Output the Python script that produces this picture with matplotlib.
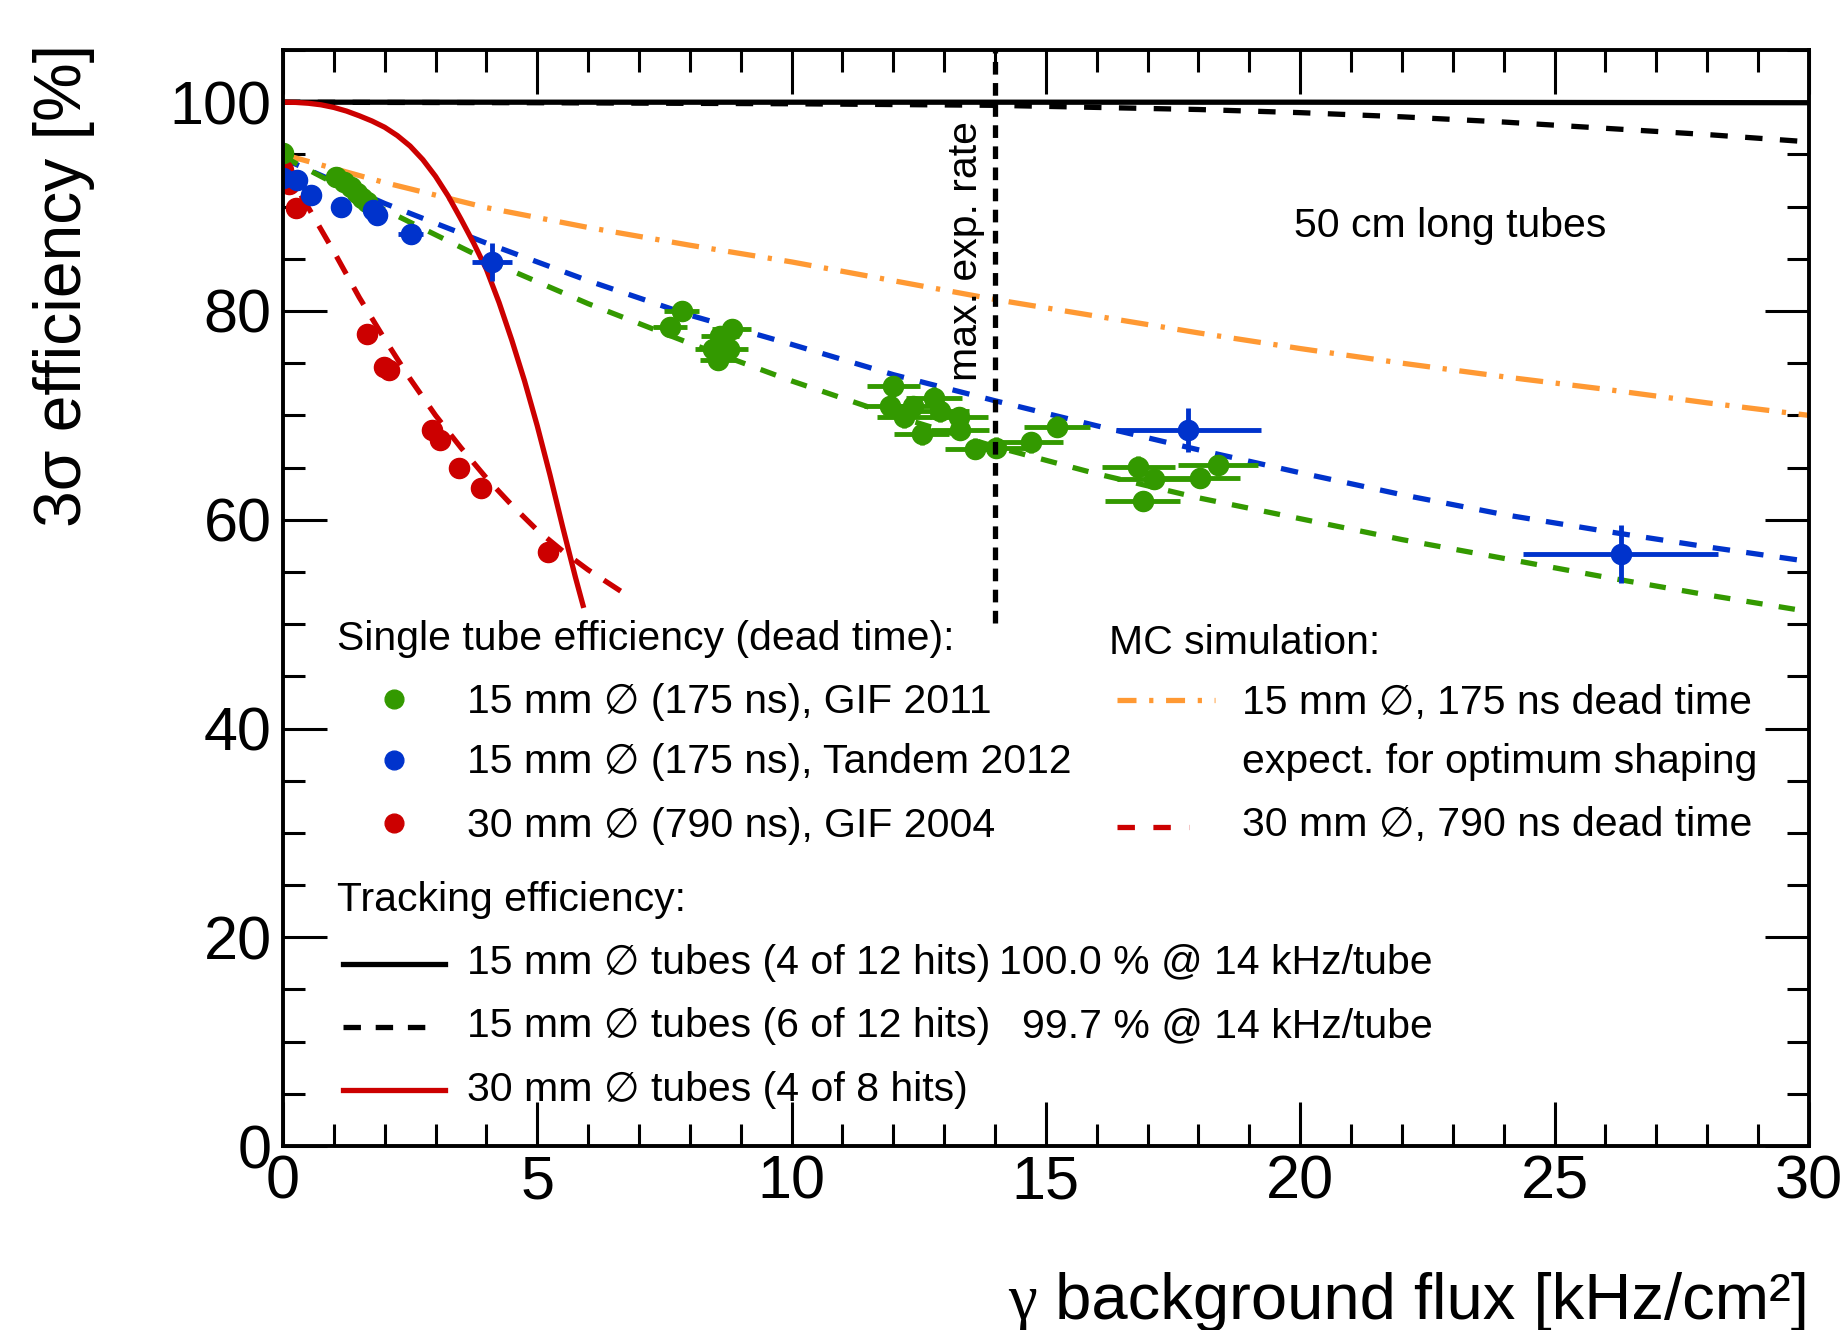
import matplotlib
matplotlib.use('Agg')
import matplotlib.pyplot as plt
from matplotlib.ticker import MultipleLocator

plt.rcParams['font.family'] = ['Liberation Sans', 'DejaVu Sans']

# --- measured single tube efficiencies ---
gif2011_x = [0.0, 1.05, 1.2, 1.33, 1.45, 1.55, 1.65,
             7.84, 7.61, 8.82, 8.59, 8.46, 8.77, 8.56,
             12.0, 11.94, 12.21, 12.39, 12.8, 12.92, 12.56, 13.29, 13.31,
             13.6, 14.02, 14.71, 15.22, 16.82, 17.13, 18.03, 18.39, 16.9]
gif2011_y = [95.1, 92.8, 92.4, 91.9, 91.3, 90.8, 90.4,
             80.0, 78.5, 78.3, 77.6, 76.4, 76.4, 75.3,
             72.8, 70.9, 69.8, 70.9, 71.7, 70.4, 68.2, 69.8, 68.6,
             66.8, 66.9, 67.4, 68.9, 65.1, 63.9, 64.0, 65.2, 61.8]
gif2011_xerr = [0, 0, 0, 0, 0, 0, 0,
                0.34, 0.33, 0.38, 0.37, 0.36, 0.38, 0.37,
                0.52, 0.51, 0.53, 0.53, 0.55, 0.56, 0.54, 0.57, 0.57,
                0.58, 0.6, 0.63, 0.65, 0.72, 0.74, 0.78, 0.79, 0.73]
gif2011_yerr = [0, 0, 0, 0, 0, 0, 0,
                1.0, 0.9, 0.9, 0.9, 0.9, 0.9, 0.9,
                1.0, 1.0, 1.0, 1.0, 1.0, 1.0, 1.0, 1.0, 1.0,
                1.0, 1.0, 1.0, 1.0, 1.0, 1.0, 1.0, 1.0, 1.0]

tandem_x = [0.0, 0.28, 0.55, 1.14, 1.78, 1.84, 2.51, 4.11, 17.8, 26.3]
tandem_y = [92.7, 92.5, 91.1, 90.0, 89.7, 89.2, 87.4, 84.7, 68.6, 56.7]
tandem_xerr = [0, 0, 0, 0, 0, 0, 0.24, 0.4, 1.43, 1.92]
tandem_yerr = [0, 0, 0, 0, 0, 0, 0.3, 1.8, 2.1, 2.8]

gif2004_x = [0.0, 0.05, 0.12, 0.25, 1.65, 1.99, 2.08, 2.93, 3.08, 3.47, 3.9, 5.21]
gif2004_y = [93.5, 92.9, 92.2, 89.9, 77.8, 74.6, 74.3, 68.6, 67.6, 65.0, 63.0, 56.9]

# --- fits to the 15 mm data ---
fit_x = [0, 2, 4, 6, 8, 10, 12, 14, 16, 18, 20, 22, 24, 26, 28, 30]
fit_tandem = [94.6, 90.3, 86.5, 82.9, 79.6, 76.8, 73.9, 71.4, 69.0, 66.7, 64.5, 62.4, 60.5, 58.9, 57.4, 56.0]
fit_gif2011 = [94.8, 89.7, 84.9, 80.7, 76.9, 73.3, 70.0, 67.0, 64.4, 62.1, 60.1, 58.1, 56.3, 54.5, 52.8, 51.2]

# --- MC simulation ---
mc15_y = [95.0, 92.3, 89.9, 88.0, 86.3, 84.7, 82.9, 81.1, 79.5, 77.9, 76.4, 75.0, 73.7, 72.5, 71.2, 70.0]
mc30_x = [0, 0.5, 1, 1.5, 2, 2.5, 3, 3.5, 4, 4.5, 5, 5.5, 6, 6.66]
mc30_y = [94.0, 89.9, 85.7, 81.3, 77.3, 73.5, 70.0, 66.9, 64.0, 61.4, 59.0, 57.0, 55.2, 53.1]

# --- tracking efficiencies ---
trk15_x = [0, 5, 10, 14, 18, 20, 22, 24, 26, 28, 30]
trk15_4of12 = [100.0, 100.0, 100.0, 100.0, 100.0, 100.0, 99.99, 99.98, 99.97, 99.96, 99.95]
trk15_6of12 = [100.0, 99.95, 99.85, 99.7, 99.3, 99.0, 98.6, 98.1, 97.5, 96.9, 96.2]
trk30_x = [0, 0.25, 0.5, 0.75, 1, 1.25, 1.5, 1.75, 2, 2.25, 2.5, 2.75, 3, 3.25,
           3.5, 3.75, 4, 4.25, 4.5, 4.75, 5, 5.25, 5.5, 5.75, 5.9]
trk30_4of8 = [100.0, 99.98, 99.9, 99.75, 99.5, 99.15, 98.7, 98.2, 97.6, 96.8, 95.8, 94.5, 92.9, 91.0,
              88.8, 86.5, 84.0, 80.8, 77.2, 73.3, 69.0, 64.3, 59.3, 54.5, 51.8]

max_rate = 14.0

GREEN = '#339900'
BLUE = '#0033cc'
RED = '#cc0000'
ORANGE = '#ff9933'
FS = 29.5
LW = 3.8
MS = 14.5

fig = plt.figure(figsize=(18.42, 13.30), dpi=100)
ax = fig.add_axes([0.1536, 0.1383, 0.8284, 0.8241])
ax.set_xlim(0, 30)
ax.set_ylim(0, 105)

# curves
ax.plot(trk15_x, trk15_6of12, color='black', lw=LW, dashes=(3.3, 3.3))
ax.plot(trk15_x, trk15_4of12, color='black', lw=LW)
ax.plot(fit_x, mc15_y, color=ORANGE, lw=LW, dashes=(5.2, 2.4, 0.8, 2.4))
ax.plot(fit_x, fit_tandem, color=BLUE, lw=LW, dashes=(3.3, 3.1))
ax.plot(fit_x, fit_gif2011, color=GREEN, lw=LW, dashes=(3.1, 3.1))
ax.plot(mc30_x, mc30_y, color=RED, lw=LW, dashes=(3.8, 2.9))
ax.plot(trk30_x, trk30_4of8, color=RED, lw=LW)

# data points
ax.errorbar(gif2011_x, gif2011_y, xerr=gif2011_xerr, yerr=gif2011_yerr, fmt='o',
            color=GREEN, ms=MS, elinewidth=3.5, capsize=0)
ax.errorbar(tandem_x, tandem_y, xerr=tandem_xerr, yerr=tandem_yerr, fmt='o',
            color=BLUE, ms=MS, elinewidth=3.5, capsize=0)
ax.plot(gif2004_x, gif2004_y, 'o', color=RED, ms=MS)

# max expected rate
ax.plot([max_rate, max_rate], [50.1, 105], color='black', lw=LW, dashes=(2.4, 1.6), zorder=5)
ax.text(13.8, 73.3, 'max. exp. rate', rotation=90, ha='right', va='bottom', fontsize=FS)
ax.text(19.88, 87.1, '50 cm long tubes', ha='left', va='baseline', fontsize=FS)

# left legend block
ax.text(1.07, 47.5, 'Single tube efficiency (dead time):', fontsize=FS, va='baseline')
rows = [(41.5, GREEN, '15 mm \u2205 (175 ns), GIF 2011'),
        (35.7, BLUE, '15 mm \u2205 (175 ns), Tandem 2012'),
        (29.65, RED, '30 mm \u2205 (790 ns), GIF 2004')]
for yb, c, label in rows:
    ax.plot([2.19], [yb + 1.3], 'o', color=c, ms=MS - 1)
    ax.text(3.61, yb, label, fontsize=FS, va='baseline')

ax.text(1.07, 22.55, 'Tracking efficiency:', fontsize=FS, va='baseline')
ax.plot([1.18, 3.19], [17.4, 17.4], color='black', lw=LW)
ax.text(3.61, 16.5, '15 mm \u2205 tubes (4 of 12 hits)', fontsize=FS, va='baseline')
ax.text(22.6, 16.5, '100.0 % @ 14 kHz/tube', fontsize=FS, va='baseline', ha='right')
ax.plot([1.18, 2.85], [11.45, 11.45], color='black', lw=LW, dashes=(3.3, 2.8))
ax.text(3.61, 10.4, '15 mm \u2205 tubes (6 of 12 hits)', fontsize=FS, va='baseline')
ax.text(22.6, 10.4, '99.7 % @ 14 kHz/tube', fontsize=FS, va='baseline', ha='right')
ax.plot([1.18, 3.19], [5.4, 5.4], color=RED, lw=LW)
ax.text(3.61, 4.3, '30 mm \u2205 tubes (4 of 8 hits)', fontsize=FS, va='baseline')

# right legend block
ax.text(16.24, 47.1, 'MC simulation:', fontsize=FS, va='baseline')
ax.plot([16.39, 18.32], [42.7, 42.7], color=ORANGE, lw=LW, dashes=(3.6, 2.4, 0.8, 2.4))
ax.text(18.85, 41.4, '15 mm \u2205, 175 ns dead time', fontsize=FS, va='baseline')
ax.text(18.85, 35.7, 'expect. for optimum shaping', fontsize=FS, va='baseline')
ax.plot([16.39, 17.81], [30.6, 30.6], color=RED, lw=LW, dashes=(3.3, 3.5))
ax.text(18.85, 29.75, '30 mm \u2205, 790 ns dead time', fontsize=FS, va='baseline')

# axes styling (ROOT like)
ax.xaxis.set_major_locator(MultipleLocator(5))
ax.xaxis.set_minor_locator(MultipleLocator(1))
ax.yaxis.set_major_locator(MultipleLocator(20))
ax.yaxis.set_minor_locator(MultipleLocator(5))
ax.tick_params(which='both', direction='in', top=True, right=True, width=2.2)
ax.tick_params(which='major', length=32, labelsize=44)
ax.tick_params(which='minor', length=16)
ax.tick_params(axis='x', which='major', pad=6)
ax.tick_params(axis='y', which='major', pad=8)
for s in ax.spines.values():
    s.set_linewidth(2.8)

fig.text(0.035, 0.967, '3\u03c3 efficiency [%]', rotation=90, ha='center', va='top', fontsize=47.5)
xl = fig.text(0.9821, 0.0083, ' background flux [kHz/cm\u00b2]', ha='right', va='baseline', fontsize=47)
fig.canvas.draw()
bb = xl.get_window_extent()
fig.text(bb.x0 / fig.bbox.width, 0.0083, '\u03b3', ha='right', va='baseline',
         fontsize=47, family=['Liberation Serif', 'DejaVu Serif'])

fig.savefig('out.png', dpi=100)
